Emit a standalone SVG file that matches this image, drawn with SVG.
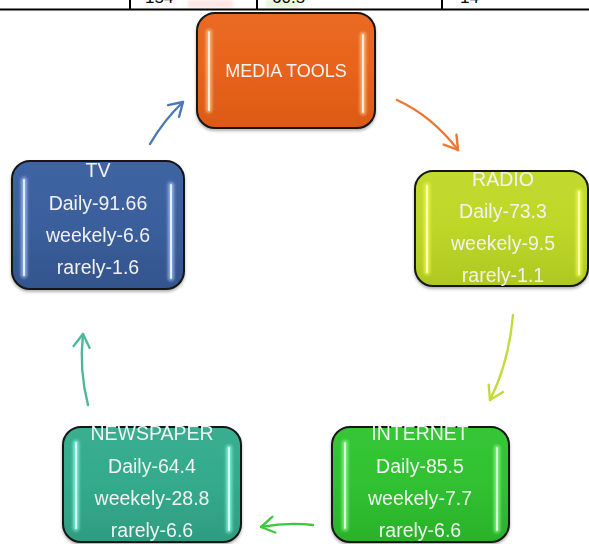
<svg xmlns="http://www.w3.org/2000/svg" width="589" height="544" viewBox="0 0 589 544">
  <style>
    .box { stroke: #151515; stroke-width: 2; }
    .label { font-family: "Liberation Sans", Arial, sans-serif; font-size: 19.5px; fill: #F2F2F2; text-anchor: middle; }
    .title { font-size: 18px; }
    .glow { stroke-width: 6; stroke-linecap: round; opacity: 0.75; filter: url(#soft); }
    .core { stroke-width: 2; stroke-linecap: round; }
    .conn { fill: none; stroke-width: 2.4; stroke-linecap: round; }
    .grid { stroke: #000; stroke-width: 2; }
    .cell { font-family: "Liberation Sans", Arial, sans-serif; font-size: 17px; fill: #000; }
  </style>
  <defs>
    <!-- user-space region so the blur also works on straight vertical lines -->
    <filter id="soft" filterUnits="userSpaceOnUse" x="0" y="0" width="589" height="544">
      <feGaussianBlur stdDeviation="1.8"/>
    </filter>
    <filter id="shadow" x="-10%" y="-10%" width="120%" height="125%">
      <feDropShadow dx="0" dy="2" stdDeviation="1.5" flood-color="#000" flood-opacity="0.3"/>
    </filter>
    <linearGradient id="gOrange" x1="0" y1="0" x2="0" y2="1">
      <stop offset="0" stop-color="#E96A24"/><stop offset="0.5" stop-color="#E8631B"/><stop offset="1" stop-color="#DA5A16"/>
    </linearGradient>
    <linearGradient id="gBlue" x1="0" y1="0" x2="0" y2="1">
      <stop offset="0" stop-color="#3F64A2"/><stop offset="0.5" stop-color="#3A5F9C"/><stop offset="1" stop-color="#33548C"/>
    </linearGradient>
    <linearGradient id="gLime" x1="0" y1="0" x2="0" y2="1">
      <stop offset="0" stop-color="#C2DA30"/><stop offset="0.5" stop-color="#BDD728"/><stop offset="1" stop-color="#AFC822"/>
    </linearGradient>
    <linearGradient id="gTeal" x1="0" y1="0" x2="0" y2="1">
      <stop offset="0" stop-color="#3AAE90"/><stop offset="0.5" stop-color="#34AA8C"/><stop offset="1" stop-color="#2E9C80"/>
    </linearGradient>
    <linearGradient id="gGreen" x1="0" y1="0" x2="0" y2="1">
      <stop offset="0" stop-color="#36C636"/><stop offset="0.5" stop-color="#30C130"/><stop offset="1" stop-color="#2AB22A"/>
    </linearGradient>
    <marker id="hBlue" viewBox="0 0 20 20" refX="17" refY="10" markerWidth="20" markerHeight="20" markerUnits="userSpaceOnUse" orient="auto">
      <path d="M4,2 L17,10 L4,18" fill="none" stroke="#4A78B4" stroke-width="2.4" stroke-linecap="round" stroke-linejoin="round"/>
    </marker>
    <marker id="hOrange" viewBox="0 0 20 20" refX="17" refY="10" markerWidth="20" markerHeight="20" markerUnits="userSpaceOnUse" orient="auto">
      <path d="M4,2 L17,10 L4,18" fill="none" stroke="#EE7632" stroke-width="2.4" stroke-linecap="round" stroke-linejoin="round"/>
    </marker>
    <marker id="hLime" viewBox="0 0 20 20" refX="17" refY="10" markerWidth="20" markerHeight="20" markerUnits="userSpaceOnUse" orient="auto">
      <path d="M4,2 L17,10 L4,18" fill="none" stroke="#C3DA3A" stroke-width="2.4" stroke-linecap="round" stroke-linejoin="round"/>
    </marker>
    <marker id="hGreen" viewBox="0 0 20 20" refX="17" refY="10" markerWidth="20" markerHeight="20" markerUnits="userSpaceOnUse" orient="auto">
      <path d="M4,2 L17,10 L4,18" fill="none" stroke="#3DC83D" stroke-width="2.4" stroke-linecap="round" stroke-linejoin="round"/>
    </marker>
    <marker id="hTeal" viewBox="0 0 20 20" refX="17" refY="10" markerWidth="20" markerHeight="20" markerUnits="userSpaceOnUse" orient="auto">
      <path d="M4,2 L17,10 L4,18" fill="none" stroke="#4CBA98" stroke-width="2.4" stroke-linecap="round" stroke-linejoin="round"/>
    </marker>
  </defs>

  <rect width="589" height="544" fill="#FFFFFF"/>

  <!-- table row cut at the top edge -->
  <g id="table-edge">
    <rect x="188" y="0" width="45" height="8" fill="#FFD6D6" opacity="0.6" filter="url(#soft)"/>
    <rect x="266" y="0" width="32" height="8" fill="#DDF2C8" opacity="0.7" filter="url(#soft)"/>
    <text class="cell" x="145" y="3">154</text>
    <text class="cell" x="272" y="3">60.5</text>
    <text class="cell" x="460" y="3">14</text>
    <line class="grid" x1="0" y1="9.5" x2="589" y2="9.5"/>
    <line class="grid" x1="130" y1="0" x2="130" y2="9"/>
    <line class="grid" x1="257" y1="0" x2="257" y2="9"/>
    <line class="grid" x1="442" y1="0" x2="442" y2="9"/>
  </g>

  <!-- connectors -->
  <g id="connectors">
    <path class="conn" stroke="#4A78B4" d="M150,144 Q164,120 183,102" marker-end="url(#hBlue)"/>
    <path class="conn" stroke="#EE7632" d="M397,100 Q432,116 458,150" marker-end="url(#hOrange)"/>
    <path class="conn" stroke="#C3DA3A" d="M513,315 Q509,362 490,400" marker-end="url(#hLime)"/>
    <path class="conn" stroke="#3DC83D" d="M313,525 Q288,522 261,527" marker-end="url(#hGreen)"/>
    <path class="conn" stroke="#4CBA98" d="M88,405 Q79,370 83,334" marker-end="url(#hTeal)"/>
  </g>

  <!-- MEDIA TOOLS -->
  <g id="media-tools" filter="url(#shadow)">
    <rect class="box" x="197" y="13" width="178" height="115" rx="18" fill="url(#gOrange)"/>
    <line class="glow" stroke="#FFC890" x1="209" y1="32" x2="209" y2="110"/>
    <line class="core" stroke="#FFEBD6" x1="209" y1="32" x2="209" y2="110"/>
    <line class="glow" stroke="#FFC890" x1="363" y1="35" x2="363" y2="112"/>
    <line class="core" stroke="#FFEBD6" x1="363" y1="35" x2="363" y2="112"/>
    <text class="label title" x="286" y="77">MEDIA TOOLS</text>
  </g>

  <!-- TV -->
  <g id="tv" filter="url(#shadow)">
    <rect class="box" x="12" y="161" width="172" height="128" rx="18" fill="url(#gBlue)"/>
    <line class="glow" stroke="#A8C8FF" x1="24" y1="180" x2="24" y2="275"/>
    <line class="core" stroke="#E4EEFF" x1="24" y1="180" x2="24" y2="275"/>
    <line class="glow" stroke="#A8C8FF" x1="171" y1="185" x2="171" y2="278"/>
    <line class="core" stroke="#E4EEFF" x1="171" y1="185" x2="171" y2="278"/>
    <text class="label" x="98" y="177">TV</text>
    <text class="label" x="98" y="210">Daily-91.66</text>
    <text class="label" x="98" y="242">weekely-6.6</text>
    <text class="label" x="98" y="274">rarely-1.6</text>
  </g>

  <!-- RADIO -->
  <g id="radio" filter="url(#shadow)">
    <rect class="box" x="415" y="171" width="173" height="115" rx="18" fill="url(#gLime)"/>
    <line class="glow" stroke="#F2FF50" x1="427" y1="186" x2="427" y2="272"/>
    <line class="core" stroke="#FCFFB0" x1="427" y1="186" x2="427" y2="272"/>
    <line class="glow" stroke="#F2FF50" x1="579" y1="192" x2="579" y2="274"/>
    <line class="core" stroke="#FCFFB0" x1="579" y1="192" x2="579" y2="274"/>
    <text class="label" x="503" y="186">RADIO</text>
    <text class="label" x="503" y="218">Daily-73.3</text>
    <text class="label" x="503" y="250">weekely-9.5</text>
    <text class="label" x="503" y="282">rarely-1.1</text>
  </g>

  <!-- NEWSPAPER -->
  <g id="newspaper" filter="url(#shadow)">
    <rect class="box" x="63" y="427" width="178" height="115" rx="18" fill="url(#gTeal)"/>
    <line class="glow" stroke="#90FFEA" x1="76" y1="443" x2="76" y2="528"/>
    <line class="core" stroke="#D6FFF8" x1="76" y1="443" x2="76" y2="528"/>
    <line class="glow" stroke="#90FFEA" x1="229" y1="448" x2="229" y2="530"/>
    <line class="core" stroke="#D6FFF8" x1="229" y1="448" x2="229" y2="530"/>
    <text class="label" x="152" y="440">NEWSPAPER</text>
    <text class="label" x="152" y="473">Daily-64.4</text>
    <text class="label" x="152" y="505">weekely-28.8</text>
    <text class="label" x="152" y="537">rarely-6.6</text>
  </g>

  <!-- INTERNET -->
  <g id="internet" filter="url(#shadow)">
    <rect class="box" x="332" y="427" width="177" height="115" rx="18" fill="url(#gGreen)"/>
    <line class="glow" stroke="#90FF90" x1="345" y1="443" x2="345" y2="528"/>
    <line class="core" stroke="#D6FFD6" x1="345" y1="443" x2="345" y2="528"/>
    <line class="glow" stroke="#90FF90" x1="497" y1="448" x2="497" y2="530"/>
    <line class="core" stroke="#D6FFD6" x1="497" y1="448" x2="497" y2="530"/>
    <text class="label" x="420" y="440">INTERNET</text>
    <text class="label" x="420" y="473">Daily-85.5</text>
    <text class="label" x="420" y="505">weekely-7.7</text>
    <text class="label" x="420" y="537">rarely-6.6</text>
  </g>
</svg>
